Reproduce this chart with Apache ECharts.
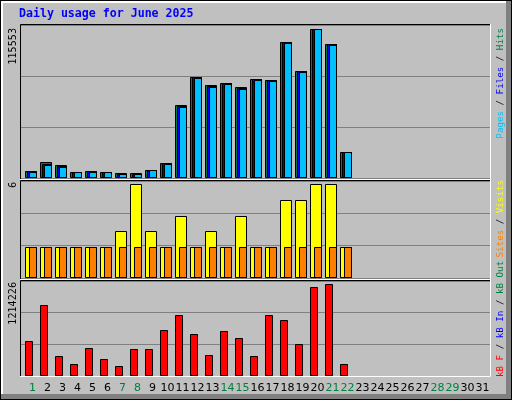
<!DOCTYPE html>
<html><head><meta charset="utf-8">
<script src="https://cdn.jsdelivr.net/npm/echarts@6/dist/echarts.min.js"></script>
<style>html,body{margin:0;padding:0;background:#000}#c{width:512px;height:400px}</style>
</head><body><div id="c"></div>
<script>
var days = ['1','2','3','4','5','6','7','8','9','10','11','12','13','14','15','16','17','18','19','20','21','22','23','24','25','26','27','28','29','30','31'];
var weekend = ['1','7','8','14','15','21','22','28','29'];
var hits  = [5200,12200,9800,4400,5200,4400,3600,3600,6000,11400,56400,78100,71900,73400,70300,76500,75800,105200,82700,115553,103700,19900];
var files = [5200,10600,9000,4400,5200,4400,2900,2900,6000,11400,55600,78100,71100,73400,69600,76500,75800,105200,82700,115553,103700,19900];
var pages = [5000,10400,8800,4300,5000,4300,2800,2800,5900,11200,55400,77900,70900,73200,69400,76300,75600,105000,82500,115300,103500,19800];
var visits = [2,2,2,2,2,2,3,6,3,2,4,2,3,2,4,2,2,5,5,6,6,2];
var sites  = [2,2,2,2,2,2,2,2,2,2,2,2,2,2,2,2,2,2,2,2,2,2];
var kbF = [470000,935000,271000,165000,377000,231000,138000,364000,351000,603000,802000,550000,284000,590000,497000,271000,802000,736000,430000,1174000,1214226,165000];
var topLabels = ['115553','6','1214226'];

var mono = 'DejaVu Sans Mono';
function barSeries(data, grid, color, dx0, dx1, z){
  return {type:'custom', xAxisIndex:grid, yAxisIndex:grid, z:z, silent:true,
    data: data.map(function(v,i){return [i+1, v];}),
    renderItem:function(params, api){
      var p = api.coord([api.value(0), api.value(1)]);
      var b = api.coord([api.value(0), 0]);
      var x0 = Math.round(p[0]+dx0)+0.5, x1 = Math.round(p[0]+dx1)+0.5;
      var y0 = Math.round(p[1])+0.5, y1 = Math.round(b[1])-0.5;
      return {type:'rect', shape:{x:x0, y:y0, width:x1-x0, height:Math.max(y1-y0,1)},
        style:{fill:color, stroke:'#000', lineWidth:1}};
    }};
}
var panels = [{top:25,h:153,max:118655},{top:181,h:97,max:6.21},{top:281,h:95,max:1257900}];
var grids=[], xAxes=[], yAxes=[];
panels.forEach(function(p,i){
  grids.push({left:20, width:471, top:p.top, height:p.h});
  xAxes.push({type:'value', gridIndex:i, min:0.1667, max:31.5667, show:false});
  yAxes.push({type:'value', gridIndex:i, min:0, max:p.max, interval:p.max/3,
    axisLabel:{show:false}, axisLine:{show:false}, axisTick:{show:false},
    splitLine:{show:true, lineStyle:{color:'#808080', width:1}}});
});
grids.push({left:25, width:465, top:378, height:1});
xAxes.push({type:'category', gridIndex:3, data:days, axisLine:{show:false}, axisTick:{show:false},
  axisLabel:{interval:0, margin:4, fontFamily:'DejaVu Sans', fontSize:11,
    formatter:function(v){return weekend.indexOf(v)>=0?'{w|'+v+'}':'{n|'+v+'}';},
    rich:{w:{color:'#008040',fontFamily:'DejaVu Sans',fontSize:11},n:{color:'#000',fontFamily:'DejaVu Sans',fontSize:11}}}});
yAxes.push({type:'value', gridIndex:3, show:false});

var g = [
  {type:'rect', shape:{x:0,y:0,width:512,height:400}, style:{fill:'#000'}, z:-10},
  {type:'rect', shape:{x:1,y:1,width:510,height:398}, style:{fill:'#808080'}, z:-10},
  {type:'rect', shape:{x:1,y:1,width:505,height:393}, style:{fill:'#fff'}, z:-10},
  {type:'rect', shape:{x:3,y:3,width:503,height:391}, style:{fill:'#C0C0C0'}, z:-10},
  {type:'text', left:19, top:8, style:{text:'Daily usage for June 2025', fill:'#0000FF', font:'bold 11.6px '+mono}}
];
[[24,180],[180,280],[280,377]].forEach(function(r){
  g.push({type:'polyline', shape:{points:[[20.5,r[1]-0.5],[20.5,r[0]+0.5],[491,r[0]+0.5]]}, style:{stroke:'#000',lineWidth:1,fill:null}, z:10});
  g.push({type:'polyline', shape:{points:[[20,r[1]-0.5],[490.5,r[1]-0.5],[490.5,r[0]]]}, style:{stroke:'#fff',lineWidth:1,fill:null}, z:10});
});
function vtext(x, yTop, txt, size, fam, align){
  return {type:'text', x:x, y:yTop, rotation:Math.PI/2, z:20,
    style:{text:txt, font:size+'px '+fam, fill:'#000', align:align||'right', verticalAlign:'top'}};
}
g.push(vtext(8, 28, topLabels[0], 9.6, 'DejaVu Sans'));
g.push(vtext(8, 182, topLabels[1], 9.6, 'DejaVu Sans'));
g.push(vtext(8, 282, topLabels[2], 9.6, 'DejaVu Sans'));
function legend(yTop, parts, align){
  return {type:'text', x:496, y:yTop, rotation:Math.PI/2, z:20,
    style:{text:parts.map(function(p){return '{'+p[1]+'|'+p[0]+'}';}).join(''),
      align:align||'right', verticalAlign:'top',
      rich:{g:{fill:'#008040',font:'9.2px '+mono},b:{fill:'#0000FF',font:'9.2px '+mono},
            c:{fill:'#00C0FF',font:'9.2px '+mono},k:{fill:'#000',font:'9.2px '+mono},
            y:{fill:'#FFFF00',font:'9.2px '+mono},o:{fill:'#FF8000',font:'9.2px '+mono},
            r:{fill:'#FF0000',font:'9.2px '+mono}}}};
}
g.push(legend(28, [['Pages','c'],[' / ','k'],['Files','b'],[' / ','k'],['Hits','g']]));
g.push(legend(180, [['Sites','o'],[' / ','k'],['Visits','y']]));
g.push({type:'text', x:496, y:377, rotation:Math.PI/2, z:20,
  style:{text:'{r|kB F}{k| / }{b|kB In}{k| / }{g|kB Out}', align:'left', verticalAlign:'top',
    rich:{g:{fill:'#008040',font:'9.2px '+mono},b:{fill:'#0000FF',font:'9.2px '+mono},
          k:{fill:'#000',font:'9.2px '+mono},r:{fill:'#FF0000',font:'9.2px '+mono}}}});

var chart = echarts.init(document.getElementById('c'));
chart.setOption({
  animation:false, backgroundColor:'#C0C0C0',
  grid:grids, xAxis:xAxes, yAxis:yAxes, graphic:{elements:g},
  series:[
    barSeries(hits,0,'#008040',-7.5,4,1),
    barSeries(files,0,'#0000FF',-5,4,2),
    barSeries(pages,0,'#00C0FF',-3.5,4,3),
    barSeries(visits,1,'#FFFF00',-7,4,1),
    barSeries(sites,1,'#FF8000',-3.5,4,2),
    barSeries(kbF,2,'#FF0000',-7.5,0,1)
  ]
});
</script></body></html>
